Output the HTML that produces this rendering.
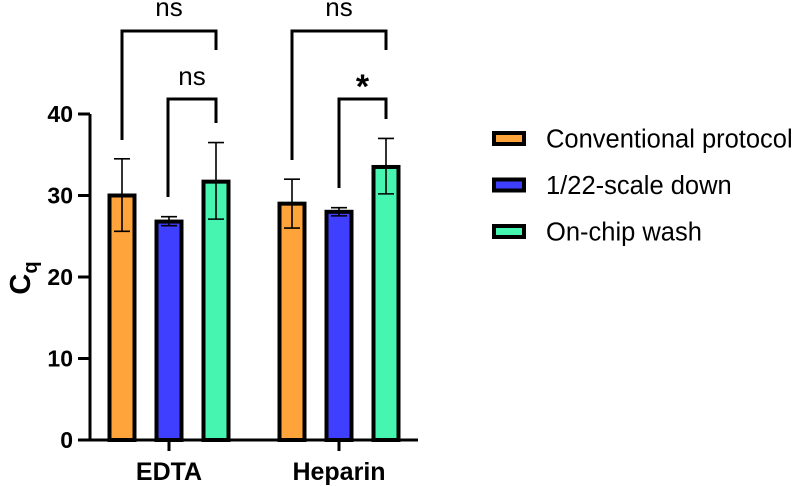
<!DOCTYPE html>
<html><head><meta charset="utf-8"><style>
html,body{margin:0;padding:0;background:#fff;}
svg{display:block;font-family:"Liberation Sans",Arial,sans-serif;}
</style></head><body>
<svg id="chart" width="800" height="486" viewBox="0 0 800 486"></svg>
<script>
const groups = ["EDTA", "Heparin"];
const seriesNames = ["Conventional protocol", "1/22-scale down", "On-chip wash"];
const seriesColors = ["#FFA33B", "#3F3FFF", "#45F5B0"];
const meanEDTA = [30.0, 26.8, 31.7];
const meanHeparin = [29.0, 28.0, 33.5];
const lowEDTA = [25.6, 26.3, 27.1];
const highEDTA = [34.5, 27.4, 36.5];
const lowHeparin = [26.0, 27.5, 30.2];
const highHeparin = [32.0, 28.5, 37.0];
const yTicks = [0, 10, 20, 30, 40];

const NS = "http://www.w3.org/2000/svg";
const svg = document.getElementById("chart");
const y0 = 440, pxPerUnit = 8.15;
function yScale(v){ return y0 - v * pxPerUnit; }
const groupCenter = [169, 339];
const barOffset = [-47, 0, 47];
const barW = 25;
function xBar(g, s){ return groupCenter[g] + barOffset[s]; }
function el(tag, attrs, parent){
  const e = document.createElementNS(NS, tag);
  for (const k in attrs) e.setAttribute(k, attrs[k]);
  (parent || svg).appendChild(e);
  return e;
}
const means = [meanEDTA, meanHeparin], lows = [lowEDTA, lowHeparin], highs = [highEDTA, highHeparin];

for (let g = 0; g < groups.length; g++) {
  for (let s = 0; s < seriesNames.length; s++) {
    const cx = xBar(g, s), v = means[g][s];
    const r = el("rect", {x: cx - barW/2, y: yScale(v), width: barW, height: y0 - yScale(v), fill: seriesColors[s], stroke: "#000", "stroke-width": 4});
    
    
    const eb = el("path", {d: `M${cx} ${yScale(lows[g][s])}V${yScale(highs[g][s])}M${cx-8} ${yScale(highs[g][s])}H${cx+8}M${cx-8} ${yScale(lows[g][s])}H${cx+8}`, stroke: "#000", "stroke-width": 1.6, fill: "none"});
    
    
  }
}

const yAxis = el("path", {d: `M90 ${yScale(40)}V${y0}`, stroke: "#000", "stroke-width": 3, fill: "none"});


const xAxis = el("path", {d: `M78 ${y0}H418`, stroke: "#000", "stroke-width": 3, fill: "none"});


yTicks.forEach(t => {
  const tk = el("path", {d: `M78 ${yScale(t)}H90`, stroke: "#000", "stroke-width": 3});
  
  
  const lb = el("text", {x: 73, y: yScale(t) + 8, "text-anchor": "end", "font-size": 23, "font-weight": "bold"});
  lb.textContent = t;
  
  
});
groups.forEach((gname, g) => {
  const tk = el("path", {d: `M${groupCenter[g]} ${y0}V${y0+11}`, stroke: "#000", "stroke-width": 3});
  
  
  const lb = el("text", {x: groupCenter[g], y: 480, "text-anchor": "middle", "font-size": 25, "font-weight": "bold"});
  lb.textContent = gname;
  
  
});
const yt = el("text", {transform: "translate(30,278) rotate(-90)", "text-anchor": "middle", "font-size": 29, "font-weight": "bold"});
yt.innerHTML = 'C<tspan font-size="20" dy="7">q</tspan>';



const brackets = [
  {x1: 122, x2: 216, top: 31, l: 140, r: 50, label: "ns", ly: 16, fs: 26, bold: false},
  {x1: 168, x2: 216, top: 99, l: 197, r: 123, label: "ns", ly: 85, fs: 26, bold: false},
  {x1: 292, x2: 386, top: 31, l: 160, r: 50, label: "ns", ly: 16, fs: 26, bold: false},
  {x1: 339, x2: 386, top: 99, l: 188, r: 119, label: "*", ly: 98, fs: 34, bold: true}
];
brackets.forEach(b => {
  const p = el("path", {d: `M${b.x1} ${b.l}V${b.top}H${b.x2}V${b.r}`, stroke: "#000", "stroke-width": 3, fill: "none"});
  
  
  const t = el("text", {x: (b.x1 + b.x2)/2, y: b.ly, "text-anchor": "middle", "font-size": b.fs, "font-weight": b.bold ? "bold" : "normal"});
  t.textContent = b.label;
  
  
});

const legendY = [138.5, 185, 231.5];
seriesNames.forEach((n, s) => {
  const r = el("rect", {x: 494, y: legendY[s] - 5.5, width: 30, height: 11, fill: seriesColors[s], stroke: "#000", "stroke-width": 4});
  
  
  const t = el("text", {x: 546, y: legendY[s] + 9, "font-size": 25.5});
  t.textContent = n;
  
  
});
</script>
</body></html>
